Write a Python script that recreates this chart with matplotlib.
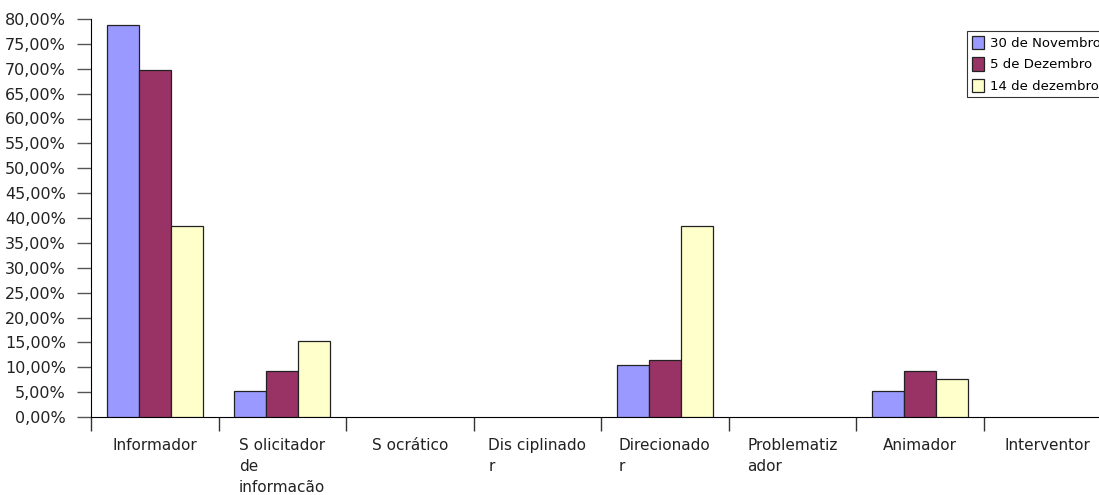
import matplotlib
matplotlib.use("Agg")
import matplotlib.pyplot as plt
import numpy as np
from matplotlib.ticker import FuncFormatter, MultipleLocator, FixedLocator

categories = ["Informador", "S olicitador\nde\ninformacão", "S ocrático",
              "Dis ciplinado\nr", "Direcionado\nr", "Problematiz\nador",
              "Animador", "Interventor"]
series_names = ["30 de Novembro", "5 de Dezembro", "14 de dezembro"]
nov30 = [0.788, 0.052, 0.0, 0.0, 0.105, 0.0, 0.052, 0.0]
dez5 = [0.697, 0.092, 0.0, 0.0, 0.115, 0.0, 0.092, 0.0]
dez14 = [0.384, 0.153, 0.0, 0.0, 0.384, 0.0, 0.077, 0.0]
colors = ["#9999FF", "#993366", "#FFFFCC"]

plt.rcParams['font.family'] = ['DejaVu Sans']

fig = plt.figure(figsize=(10.99, 4.95), dpi=100)
ax = fig.add_axes([91 / 1099, 1 - 417 / 495, 1020 / 1099, 398 / 495])

x = np.arange(len(categories))
w = 0.25
for i, (vals, name, c) in enumerate(zip([nov30, dez5, dez14], series_names, colors)):
    vis = [v if v > 0 else np.nan for v in vals]
    ax.bar(x + (i - 1) * w, vis, width=w, color=c, edgecolor="#222222",
           linewidth=0.9, label=name, zorder=3)

ax.set_xlim(-0.5, len(categories) - 0.5)
ax.set_ylim(0, 0.8)
ax.yaxis.set_major_locator(MultipleLocator(0.05))
ax.yaxis.set_major_formatter(FuncFormatter(lambda v, p: f"{v*100:.2f}%".replace(".", ",")))

ax.set_xticks(x)
ax.set_xticklabels(categories)
ax.xaxis.set_minor_locator(FixedLocator(np.arange(-0.5, len(categories), 1.0)))
ax.tick_params(axis="x", which="major", length=0, pad=15, labelsize=11, colors="#222222")
ax.tick_params(axis="x", which="minor", length=10, width=1, color="#333333")
ax.tick_params(axis="y", length=10, width=1, color="#555555", pad=8, labelsize=11.5,
               labelcolor="#222222")
for lbl in ax.get_xticklabels():
    lbl.set_multialignment("left")
    lbl.set_verticalalignment("top")
    lbl.set_linespacing(1.5)

for s in ["top", "right"]:
    ax.spines[s].set_visible(False)
ax.spines["left"].set_color("#000000")
ax.spines["bottom"].set_color("#000000")

leg = fig.legend(loc="upper left", bbox_to_anchor=(967 / 1099, 1 - 31 / 495),
                 frameon=True, fancybox=False, edgecolor="#000000", fontsize=9.5,
                 handlelength=0.95, handleheight=1.2, handletextpad=0.45,
                 labelspacing=0.55, borderpad=0.35, borderaxespad=0)
leg.get_frame().set_linewidth(0.8)

fig.savefig("out.png", dpi=100)
